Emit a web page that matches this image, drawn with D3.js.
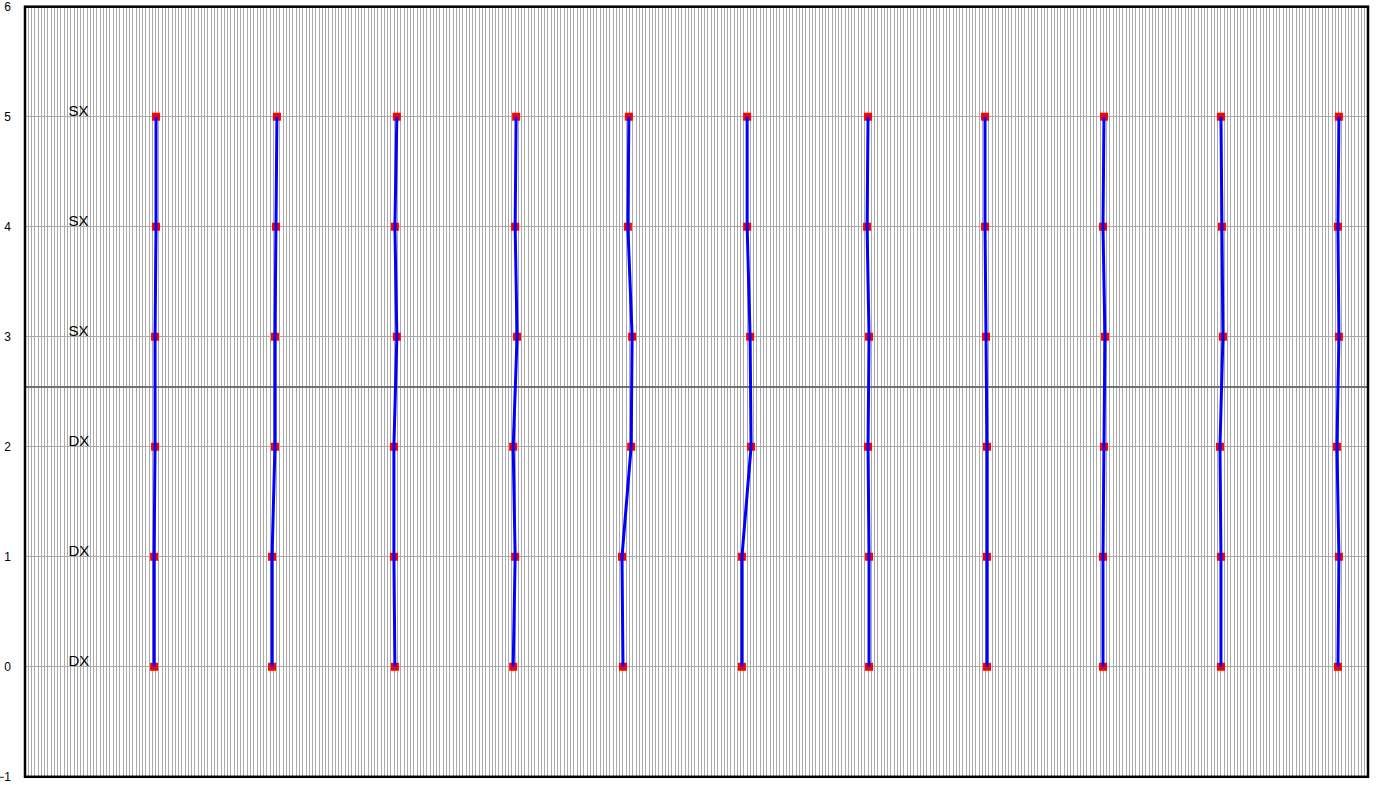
<!DOCTYPE html>
<html>
<head>
<meta charset="utf-8">
<script src="https://cdn.jsdelivr.net/npm/d3@7"></script>
<style>
  html, body { margin: 0; padding: 0; background: #ffffff; }
  svg { display: block; }
</style>
</head>
<body>
<svg id="chart" width="1381" height="785"></svg>
<script>
// ---- data ----
const levels = [0, 1, 2, 3, 4, 5];
const levelLabels = ["DX", "DX", "DX", "SX", "SX", "SX"];
const yTicks = [-1, 0, 1, 2, 3, 4, 5, 6];
const xDomain = [0, 411];
const yDomain = [-1, 6];
const separatorValue = 2.54;
const labelX = 13.3;

const col1  = [39.5, 39.5, 39.8, 39.8, 40.1, 40.1];
const col2  = [75.6, 75.6, 76.5, 76.5, 76.8, 77.1];
const col3  = [113.2, 112.9, 112.9, 113.8, 113.2, 113.8];
const col4  = [149.4, 150.0, 149.4, 150.6, 150.0, 150.3];
const col5  = [183.0, 182.7, 185.5, 185.8, 184.5, 184.8];
const col6  = [219.4, 219.4, 222.2, 221.9, 221.0, 221.0];
const col7  = [258.3, 258.3, 258.0, 258.3, 257.7, 258.0];
const col8  = [294.4, 294.4, 294.4, 294.1, 293.8, 293.8];
const col9  = [329.9, 329.9, 330.2, 330.5, 329.9, 330.2];
const col10 = [366.0, 366.0, 365.7, 366.6, 366.3, 366.0];
const col11 = [401.8, 402.1, 401.5, 402.1, 401.8, 402.1];
const series = [col1, col2, col3, col4, col5, col6, col7, col8, col9, col10, col11];

// ---- layout ----
const svg = d3.select("#chart");
const plotLeft = 25, plotRight = 1368, plotTop = 6.7, plotBottom = 776.8;

const x = d3.scaleLinear().domain(xDomain).range([plotLeft, plotRight]);
const y = d3.scaleLinear().domain(yDomain).range([plotBottom, plotTop]);

// vertical minor gridlines
const xGrid = d3.range(xDomain[0] + 1, xDomain[1], 1);
svg.append("g")
  .selectAll("line")
  .data(xGrid)
  .join("line")
  .attr("x1", d => x(d)).attr("x2", d => x(d))
  .attr("y1", plotTop).attr("y2", plotBottom)
  .attr("stroke", "#aaaaaa")
  .attr("stroke-width", 1)
  .attr("shape-rendering", "crispEdges");

// horizontal gridlines
svg.append("g")
  .selectAll("line")
  .data(yTicks)
  .join("line")
  .attr("x1", plotLeft).attr("x2", plotRight)
  .attr("y1", d => y(d)).attr("y2", d => y(d))
  .attr("stroke", "#aaaaaa")
  .attr("stroke-width", 1)
  .attr("shape-rendering", "crispEdges");

// separator line
svg.append("line")
  .attr("x1", plotLeft).attr("x2", plotRight)
  .attr("y1", y(separatorValue)).attr("y2", y(separatorValue))
  .attr("stroke", "#707070")
  .attr("stroke-width", 2)
  .attr("shape-rendering", "crispEdges");

// frame
svg.append("rect")
  .attr("x", plotLeft).attr("y", plotTop)
  .attr("width", plotRight - plotLeft).attr("height", plotBottom - plotTop)
  .attr("fill", "none")
  .attr("stroke", "#000")
  .attr("stroke-width", 2.5);

// y axis tick labels
const yAxis = d3.axisLeft(y).tickValues(yTicks).tickSize(0).tickPadding(14).tickFormat(d3.format("d"));
const gy = svg.append("g").attr("transform", `translate(${plotLeft},0)`).call(yAxis);
gy.select(".domain").remove();
gy.selectAll("text")
  .attr("font-family", "'Liberation Sans', Arial, sans-serif")
  .attr("font-size", 12)
  .attr("fill", "#000");

// side labels
svg.append("g")
  .selectAll("text")
  .data(levels)
  .join("text")
  .attr("x", x(labelX))
  .attr("y", d => y(d) - 0.5)
  .attr("font-family", "'Liberation Sans', Arial, sans-serif")
  .attr("font-size", 15)
  .attr("fill", "#000")
  .text((d, i) => levelLabels[i]);

// markers
const markerSize = 8;
series.forEach(s => {
  svg.append("g")
    .selectAll("rect")
    .data(levels)
    .join("rect")
    .attr("x", (d, i) => x(s[i]) - markerSize / 2)
    .attr("y", d => y(d) - markerSize / 2)
    .attr("width", markerSize).attr("height", markerSize)
    .attr("fill", "#ff0000");
});

// lines
const line = d3.line()
  .x(d => x(d.v))
  .y(d => y(d.level));
series.forEach(s => {
  svg.append("path")
    .datum(levels.map((l, i) => ({ level: l, v: s[i] })))
    .attr("d", line)
    .attr("fill", "none")
    .attr("stroke", "#0000ff")
    .attr("stroke-width", 3);
});
</script>
</body>
</html>
